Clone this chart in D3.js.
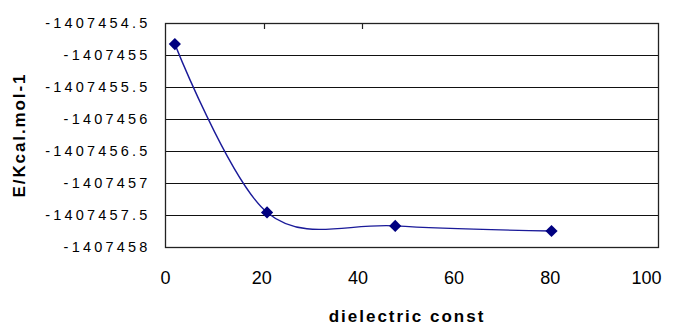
<!DOCTYPE html>
<html>
<head>
<meta charset="utf-8">
<script src="https://cdn.jsdelivr.net/npm/d3@7"></script>
<style>
  html, body { margin: 0; padding: 0; background: #fff; }
  svg { display: block; }
  text { font-family: "Liberation Sans", Arial, sans-serif; fill: #000; }
</style>
</head>
<body>
<svg id="chart" width="676" height="327"></svg>
<script>
// data
const dielectric = [2.0, 20.7, 46.7, 78.4];
const energy = [-1407454.83, -1407457.46, -1407457.67, -1407457.75];
const xTicks = [0, 20, 40, 60, 80, 100];
const yTicks = [-1407454.5, -1407455, -1407455.5, -1407456, -1407456.5, -1407457, -1407457.5, -1407458];
const yTickLabels = ["-1407454.5", "-1407455", "-1407455.5", "-1407456", "-1407456.5", "-1407457", "-1407457.5", "-1407458"];
const topTicks = [20, 40];

const svg = d3.select("#chart");
const plot = { left: 165, right: 658, top: 23, bottom: 247 };

const x = d3.scaleLinear().domain([0, 100]).range([plot.left, plot.right]);
const y = d3.scaleLinear().domain([-1407458, -1407454.5]).range([plot.bottom, plot.top]);
// the tick labels sit a bit tighter than the plot itself
const xLabel = x.copy().range([plot.left, 646]);

// gridlines
svg.append("g")
   .selectAll("line")
   .data(yTicks)
   .join("line")
   .attr("x1", plot.left).attr("x2", plot.right)
   .attr("y1", d => Math.round(y(d)) + 0.5).attr("y2", d => Math.round(y(d)) + 0.5)
   .attr("stroke", "#111").attr("stroke-width", 1);

// plot border
svg.append("rect")
   .attr("x", plot.left + 0.5).attr("y", plot.top + 0.5)
   .attr("width", plot.right - plot.left).attr("height", plot.bottom - plot.top)
   .attr("fill", "none").attr("stroke", "#222").attr("stroke-width", 1.3);

// small ticks hanging off the top border
svg.append("g")
   .selectAll("line")
   .data(topTicks)
   .join("line")
   .attr("x1", d => Math.round(x(d)) + 0.5).attr("x2", d => Math.round(x(d)) + 0.5)
   .attr("y1", plot.top).attr("y2", plot.top + 6)
   .attr("stroke", "#222").attr("stroke-width", 1.2);

// y tick labels
svg.append("g")
   .selectAll("text")
   .data(yTicks)
   .join("text")
   .attr("x", 150.5)
   .attr("y", d => y(d) + 5)
   .attr("text-anchor", "end")
   .style("font-size", "14.5px")
   .style("letter-spacing", "3.2px")
   .text((d, i) => yTickLabels[i]);

// x axis labels through d3 axis (no tick lines)
const xAxis = svg.append("g")
   .attr("transform", `translate(0,${plot.bottom})`)
   .call(d3.axisBottom(xLabel).tickValues(xTicks).tickSize(0).tickPadding(24).tickFormat(d3.format("d")));
xAxis.select(".domain").remove();
xAxis.selectAll("text")
   .attr("font-family", null)
   .style("font-size", "18px")
   .attr("fill", "#000");

// smooth line
const line = d3.line()
   .x(d => x(d[0]))
   .y(d => y(d[1]))
   .curve(d3.curveCatmullRom.alpha(0));
const pts = dielectric.map((d, i) => [d, energy[i]]);

svg.append("path")
   .datum(pts)
   .attr("d", line)
   .attr("fill", "none")
   .attr("stroke", "#1a1a99")
   .attr("stroke-width", 1.4);

// diamond markers
svg.append("g")
   .selectAll("path")
   .data(pts)
   .join("path")
   .attr("transform", d => `translate(${x(d[0])},${y(d[1])})`)
   .attr("d", d3.symbol(d3.symbolDiamond2, 95))
   .attr("fill", "#000080");

// axis titles
svg.append("text")
   .attr("x", 407).attr("y", 322)
   .attr("text-anchor", "middle")
   .style("font-size", "17px").style("font-weight", "bold")
   .style("letter-spacing", "2px")
   .text("dielectric const");

svg.append("text")
   .attr("transform", `translate(25,${(plot.top + plot.bottom) / 2}) rotate(-90)`)
   .attr("text-anchor", "middle")
   .style("font-size", "17px").style("font-weight", "bold")
   .style("letter-spacing", "1.9px")
   .text("E/Kcal.mol-1");
</script>
</body>
</html>
